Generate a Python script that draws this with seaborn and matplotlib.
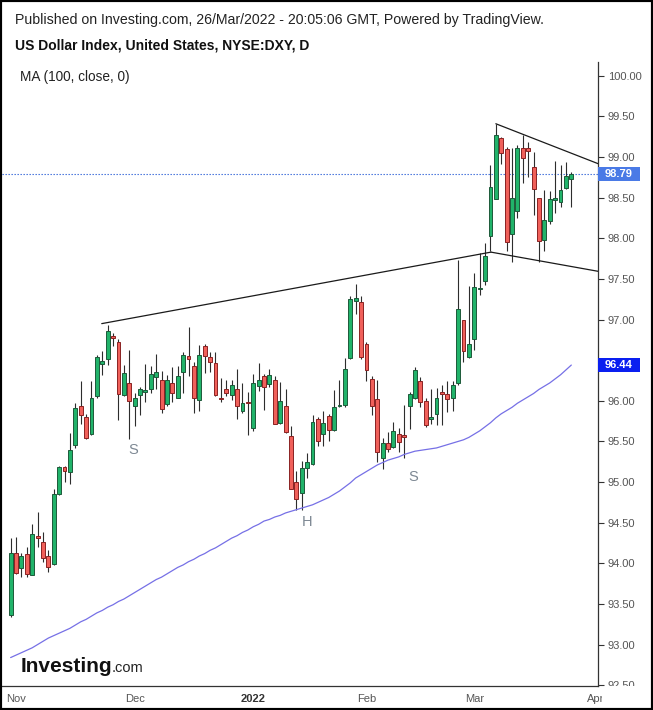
import matplotlib
matplotlib.use("Agg")
import matplotlib.pyplot as plt
import matplotlib.transforms as mtransforms
from matplotlib.patches import Rectangle
import seaborn as sns
import pandas as pd

# daily candles, 29 Oct 2021 -> 25 Mar 2022
opens = [93.36, 94.13, 93.94, 94.12, 93.86, 94.34, 94.26, 94.09, 93.99, 94.85,
         95.18, 95.12, 95.46, 95.93, 95.80, 95.59, 96.06, 96.45, 96.52, 96.80,
         96.72, 96.07, 96.22, 95.93, 96.07, 96.11, 96.15, 96.29, 96.25, 95.96,
         96.22, 96.04, 96.35, 96.55, 96.43, 96.01, 96.68, 96.54, 96.46, 96.03,
         96.14, 96.07, 96.14, 95.88, 95.99, 95.66, 96.18, 96.31, 96.21, 96.25,
         95.73, 95.94, 95.57, 95.00, 94.87, 95.17, 95.22, 95.77, 95.59, 95.81,
         95.64, 95.93, 95.95, 96.53, 97.23, 97.21, 96.70, 96.27, 96.02, 95.30,
         95.48, 95.43, 95.59, 95.57, 95.94, 96.03, 96.24, 96.00, 95.78, 95.84,
         96.11, 96.08, 96.04, 96.22, 96.99, 96.54, 96.76, 97.37, 97.47, 98.03,
         98.49, 99.23, 99.10, 98.05, 98.34, 99.11, 99.11, 98.88, 98.49, 97.98,
         98.21, 98.47, 98.45, 98.62, 98.73]
highs = [94.31, 94.32, 94.13, 94.20, 94.48, 94.63, 94.39, 94.16, 94.91, 95.20,
         95.20, 95.60, 95.97, 96.24, 95.84, 96.24, 96.56, 96.61, 96.93, 96.83,
         96.76, 96.44, 96.63, 96.09, 96.17, 96.45, 96.43, 96.58, 96.37, 96.32,
         96.42, 96.43, 96.60, 96.91, 96.48, 96.69, 96.70, 96.60, 96.60, 96.28,
         96.26, 96.26, 96.39, 96.22, 96.11, 96.33, 96.46, 96.33, 96.39, 96.30,
         96.23, 96.14, 95.69, 95.13, 95.26, 95.36, 95.83, 95.80, 95.87, 95.84,
         96.13, 96.26, 96.53, 97.29, 97.44, 97.29, 96.72, 96.31, 96.26, 95.54,
         95.62, 95.74, 95.66, 95.95, 96.11, 96.42, 96.29, 96.03, 96.15, 96.16,
         96.20, 96.24, 96.24, 97.73, 97.00, 97.41, 97.57, 97.82, 97.94, 98.90,
         99.41, 99.25, 99.12, 99.11, 99.15, 99.27, 99.19, 99.06, 98.49, 98.60,
         98.58, 98.95, 98.90, 98.94, 98.81]
lows = [93.34, 93.87, 93.83, 93.83, 93.85, 94.20, 94.01, 93.89, 93.98, 94.84,
        95.00, 94.98, 95.42, 95.72, 95.53, 95.58, 96.04, 96.32, 96.44, 96.67,
        95.76, 96.06, 95.53, 95.69, 95.83, 95.99, 96.10, 96.15, 95.85, 95.93,
        95.98, 96.03, 96.10, 96.30, 95.85, 95.88, 96.34, 96.35, 96.06, 95.99,
        96.06, 96.01, 95.77, 95.85, 95.58, 95.63, 96.12, 95.89, 96.17, 95.71,
        95.72, 95.60, 94.91, 94.66, 94.65, 95.05, 95.21, 95.44, 95.44, 95.50,
        95.63, 95.92, 95.92, 96.52, 97.07, 96.52, 96.24, 95.82, 95.25, 95.16,
        95.37, 95.42, 95.37, 95.29, 95.65, 96.02, 95.92, 95.68, 95.72, 95.70,
        95.70, 95.86, 95.87, 96.20, 96.48, 96.53, 96.63, 97.30, 97.43, 97.84,
        98.49, 98.92, 97.84, 97.71, 98.25, 98.68, 98.75, 98.29, 97.71, 97.84,
        98.17, 98.31, 98.38, 98.61, 98.39]
closes = [94.13, 93.88, 94.09, 93.87, 94.36, 94.31, 94.06, 93.96, 94.85, 95.18,
          95.13, 95.40, 95.91, 95.82, 95.54, 96.03, 96.54, 96.49, 96.86, 96.77,
          96.08, 96.34, 96.00, 96.03, 96.15, 96.12, 96.33, 96.36, 95.90, 96.26,
          96.09, 96.31, 96.57, 96.51, 96.04, 96.56, 96.55, 96.48, 96.07, 96.02,
          96.09, 96.20, 95.94, 95.97, 95.97, 96.22, 96.25, 96.17, 96.32, 95.72,
          96.00, 95.62, 94.92, 94.79, 95.17, 95.25, 95.74, 95.51, 95.73, 95.64,
          95.92, 95.95, 96.39, 97.25, 97.26, 96.54, 96.38, 95.94, 95.37, 95.48,
          95.41, 95.63, 95.49, 95.56, 96.08, 96.38, 95.98, 95.70, 95.79, 96.04,
          96.08, 96.02, 96.19, 97.13, 96.61, 96.70, 97.40, 97.39, 97.78, 98.63,
          99.27, 99.05, 97.95, 98.49, 99.11, 98.99, 99.08, 98.61, 97.97, 98.22,
          98.48, 98.48, 98.60, 98.77, 98.79]
ma100 = [92.84, 92.87, 92.90, 92.93, 92.96, 93.00, 93.04, 93.08, 93.11, 93.14,
         93.17, 93.20, 93.24, 93.28, 93.31, 93.35, 93.39, 93.42, 93.46, 93.49,
         93.53, 93.56, 93.60, 93.64, 93.68, 93.72, 93.76, 93.80, 93.83, 93.87,
         93.91, 93.95, 93.98, 94.02, 94.05, 94.09, 94.12, 94.16, 94.19, 94.23,
         94.27, 94.31, 94.34, 94.38, 94.41, 94.45, 94.48, 94.52, 94.54, 94.57,
         94.59, 94.62, 94.64, 94.66, 94.68, 94.70, 94.72, 94.75, 94.78, 94.81,
         94.85, 94.89, 94.94, 94.99, 95.05, 95.09, 95.13, 95.17, 95.21, 95.24,
         95.27, 95.29, 95.31, 95.34, 95.36, 95.38, 95.39, 95.40, 95.41, 95.42,
         95.44, 95.46, 95.48, 95.50, 95.52, 95.55, 95.59, 95.63, 95.68, 95.73,
         95.79, 95.84, 95.88, 95.92, 95.97, 96.01, 96.05, 96.09, 96.14, 96.18,
         96.22, 96.27, 96.32, 96.38, 96.44]

month_pos = [1, 23, 45, 66, 86, 108.6]
month_labels = ["Nov", "Dec", "2022", "Feb", "Mar", "Apr"]
price_ticks = [92.5, 93.0, 93.5, 94.0, 94.5, 95.0, 95.5, 96.0, 96.5,
               97.0, 97.5, 98.0, 98.5, 99.0, 99.5, 100.0]

# hand drawn trend lines (bar index, price)
neck_x, neck_y = [16.9, 89.1], [96.95, 97.83]
wedge_low_x, wedge_low_y = [89.1, 109.3], [97.83, 97.59]
wedge_up_x, wedge_up_y = [90.0, 109.3], [99.41, 98.91]

# head & shoulders labels
hs_text = ["S", "H", "S"]
hs_x = [22.7, 55.0, 74.6]
hs_y = [95.39, 94.51, 95.06]

last_price = 98.79
last_ma = 96.44

df = pd.DataFrame({"open": opens, "high": highs, "low": lows, "close": closes, "ma": ma100})
df["bar"] = range(len(df))
df["up"] = df["close"] >= df["open"]

sns.set_style("white")
plt.rcParams["font.family"] = ["Liberation Sans", "DejaVu Sans"]

W, H = 653, 710
fig = plt.figure(figsize=(W / 100, H / 100), dpi=100)
ax = fig.add_axes([2 / W, 1 - 686 / H, 596 / W, 624 / H])

up_fill, up_edge = "#21b36a", "#1d5a3a"
dn_fill, dn_edge = "#f0605a", "#8a2222"

ax.vlines(df["bar"], df["low"], df["high"], color="#2d2d2d", lw=0.8, zorder=2)
body_lo = df[["open", "close"]].min(axis=1)
body_h = (df["close"] - df["open"]).abs().clip(lower=0.02)
ax.bar(df["bar"], body_h, bottom=body_lo, width=0.72,
       color=[up_fill if u else dn_fill for u in df["up"]],
       edgecolor=[up_edge if u else dn_edge for u in df["up"]],
       linewidth=0.7, zorder=3)

sns.lineplot(x="bar", y="ma", data=df, ax=ax, color="#7670e6", lw=0.9, zorder=2)

for xs, ys in [(neck_x, neck_y), (wedge_low_x, wedge_low_y), (wedge_up_x, wedge_up_y)]:
    ax.plot(xs, ys, color="#1a1a1a", lw=0.9, zorder=4)

ax.axhline(last_price, color="#3466d8", lw=0.8, ls=(0, (1.2, 1.5)), zorder=1)

for t, x, y in zip(hs_text, hs_x, hs_y):
    ax.text(x, y, t, color="#7d8893", fontsize=10.5, ha="center", va="center")

ax.set_xlim(-1.6, 108.95)
ax.set_ylim(92.49, 100.17)
ax.set_xlabel("")
ax.set_ylabel("")

ax.yaxis.tick_right()
ax.set_yticks(price_ticks)
# the 96.50 label sits under the MA price box in the original
ax.set_yticklabels(["" if abs(v - 96.5) < 1e-6 else f"{v:.2f}" for v in price_ticks])
ax.set_xticks(month_pos)
ax.set_xticklabels(month_labels)
ax.tick_params(axis="both", labelsize=8, labelcolor="#555555", color="#333333",
               length=4, width=0.8, direction="out")
ax.tick_params(axis="y", pad=3)
ax.tick_params(axis="x", pad=2)
for lab in ax.get_xticklabels():
    if lab.get_text() == "2022":
        lab.set_fontweight("bold")
        lab.set_color("#333333")

for s in ["left", "top"]:
    ax.spines[s].set_visible(False)
for s in ["right", "bottom"]:
    ax.spines[s].set_color("#333333")
    ax.spines[s].set_linewidth(0.9)

# last-value boxes on the price scale
side = mtransforms.blended_transform_factory(ax.transAxes, ax.transData)
box_w = 42 / 596
box_h = 14 / 81.2
for val, col in [(last_price, "#4a7ae6"), (last_ma, "#0a1ff0")]:
    ax.add_patch(Rectangle((1.0, val - box_h / 2), box_w, box_h, transform=side,
                           fc=col, ec="none", clip_on=False, zorder=10))
    ax.text(1.0 + box_w / 2, val, f"{val:.2f}", transform=side, ha="center", va="center",
            fontsize=8, fontweight="bold", color="white", clip_on=False, zorder=11)

# header / legend / logo
fig.text(15 / W, 1 - 20 / H, "Published on Investing.com, 26/Mar/2022 - 20:05:06 GMT, Powered by TradingView.",
         fontsize=10.2, color="#222222", va="center")
fig.text(15 / W, 1 - 45 / H, "US Dollar Index, United States, NYSE:DXY, D",
         fontsize=10, fontweight="bold", color="#111111", va="center")
fig.text(20 / W, 1 - 77 / H, "MA (100, close, 0)", fontsize=9.8, color="#222222", va="center")
fig.text(21 / W, 1 - 672 / H, "Investing", fontsize=15, fontweight="bold",
         color="#111111", va="baseline")
fig.text(112 / W, 1 - 672 / H, ".com", fontsize=10.5, color="#222222", va="baseline")

fig.patches.append(Rectangle((0, 0), 1, 1, transform=fig.transFigure, fill=False,
                             ec="black", lw=3, zorder=20))

# clip tick labels to the pane like the original
fig.canvas.draw()
pane = ax.get_window_extent()
ybox = mtransforms.Bbox([[0, pane.y0], [W, H]])
for lab in ax.get_yticklabels():
    lab.set_clip_box(ybox)
    lab.set_clip_on(True)
xbox = mtransforms.Bbox([[pane.x0 + 5, 0], [pane.x1 + 4, H]])
for lab in ax.get_xticklabels():
    lab.set_clip_box(xbox)
    lab.set_clip_on(True)

fig.savefig("out.png", dpi=100)
